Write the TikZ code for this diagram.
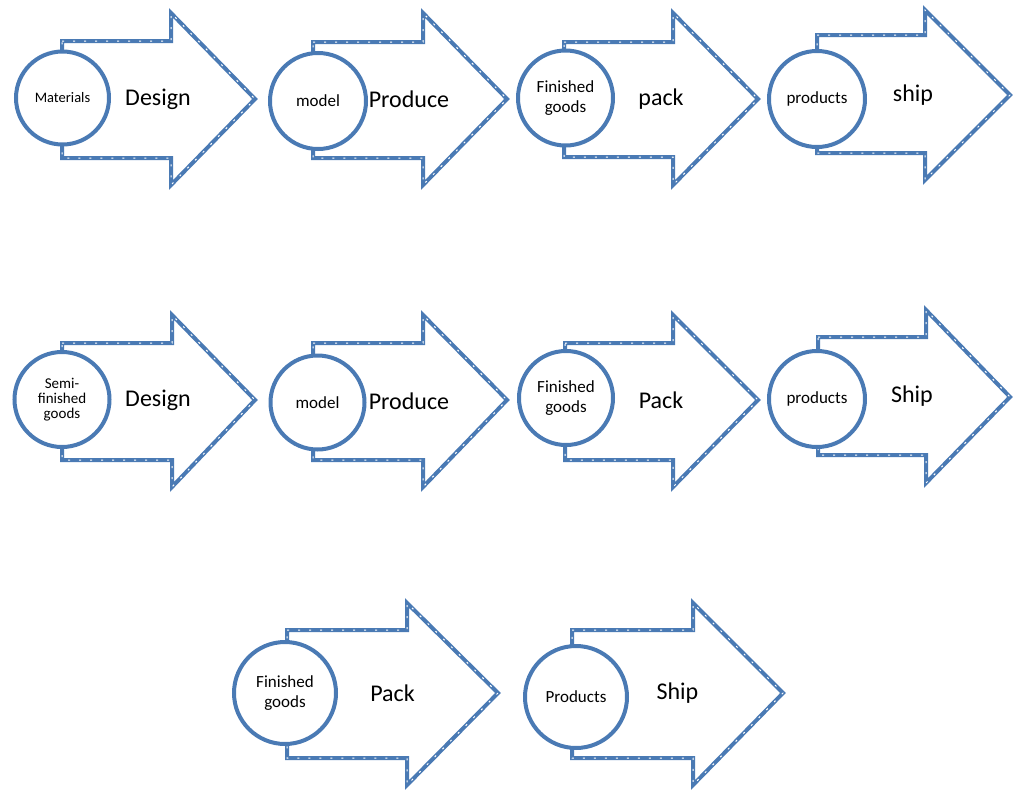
\documentclass[tikz,border=0pt]{standalone}
\usepackage{fontspec}
\setmainfont{Carlito}
\definecolor{flowblue}{RGB}{74,122,180}
\tikzset{
  outline/.style={draw=flowblue, line width=4pt, line join=miter, fill=white,
    postaction={draw=white, line width=1pt, dash pattern=on 2pt off 9pt, fill=none}},
  stage/.style={circle, draw=flowblue, line width=4pt, fill=white, inner sep=0pt,
    align=center, text=black, font=\fontsize{17}{20}\selectfont},
  action/.style={inner sep=0pt, text=black, font=\fontsize{24}{26}\selectfont}
}
% block arrow: left x, body top, head base x, head top, tip x, tip y, body bottom, head bottom
\newcommand{\blockarrow}[8]{%
  \draw[outline] (#1,#2) -- (#3,#2) -- (#3,#4) -- (#5,#6) -- (#3,#8) -- (#3,#7) -- (#1,#7) -- cycle;}
\begin{document}
\begin{tikzpicture}[x=1pt,y=-1pt]
\useasboundingbox (0,0) rectangle (1015,790);

% first row
\blockarrow{62}{41}{171}{13}{255}{99}{158}{185}
\blockarrow{313}{42}{423}{13}{507}{99}{158}{185}
\blockarrow{564}{42}{673}{13}{758}{99}{157}{185}
\blockarrow{817}{35}{925}{10}{1010}{95}{153}{180}
\node[stage, minimum size=93pt, font=\fontsize{14.5}{16}\selectfont] (a1) at (62.5,98) {Materials};
\node[stage, minimum size=96pt] (a2) at (318,101) {model};
\node[stage, minimum size=95pt] (a3) at (565.5,98) {Finished\\goods};
\node[stage, minimum size=96pt] (a4) at (817,99) {products};
\node[action] (la1) at (158,99) {Design};
\node[action] (la2) at (409,99) {Produce};
\node[action] (la3) at (661,99) {pack};
\node[action] (la4) at (913,95) {ship};

% second row
\blockarrow{62}{343}{172}{315}{255}{400}{460}{487}
\blockarrow{313}{343}{423}{315}{507}{400}{460}{487}
\blockarrow{565}{343}{673}{315}{758}{400}{460}{487}
\blockarrow{818}{337}{926}{310}{1010}{397}{455}{483}
\node[stage, minimum size=95pt, font=\fontsize{15}{15}\selectfont] (b1) at (62,399.5) {Semi-\\finished\\goods};
\node[stage, minimum size=94pt] (b2) at (317.5,402.5) {model};
\node[stage, minimum size=94pt] (b3) at (566,398) {Finished\\goods};
\node[stage, minimum size=96pt] (b4) at (817,399) {products};
\node[action] (lb1) at (158,400) {Design};
\node[action] (lb2) at (409,401) {Produce};
\node[action] (lb3) at (661,400) {Pack};
\node[action] (lb4) at (912,396) {Ship};

% third row
\blockarrow{287}{630}{407}{603}{498}{693}{758}{785}
\blockarrow{572}{630}{693}{603}{783}{693}{758}{785}
\node[stage, minimum size=102pt] (c1) at (285,693) {Finished\\goods};
\node[stage, minimum size=102pt] (c2) at (576,697) {Products};
\node[action] (lc1) at (392.5,693) {Pack};
\node[action] (lc2) at (677.5,693) {Ship};
\end{tikzpicture}
\end{document}
